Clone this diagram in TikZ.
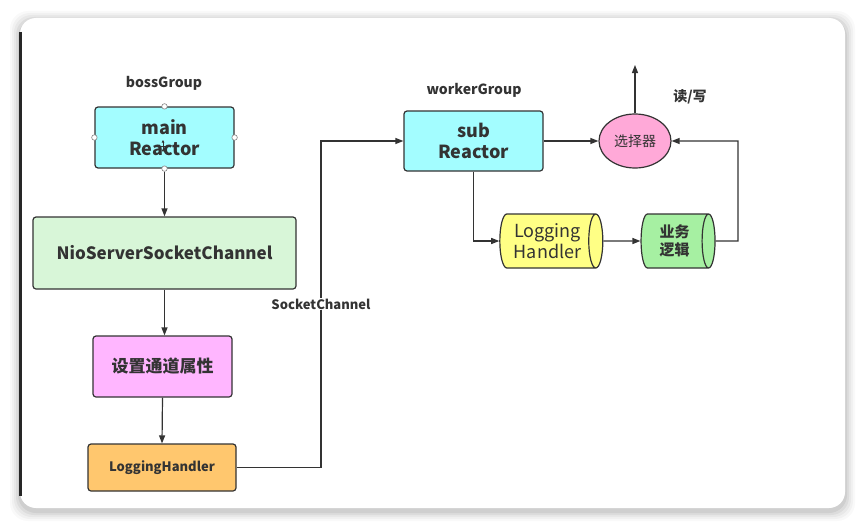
\documentclass[tikz,border=0pt]{standalone}
\usepackage{fontspec}
\setmainfont{Noto Sans CJK SC}
\usetikzlibrary{shapes.geometric,arrows.meta}
\definecolor{ink}{HTML}{333333}
\definecolor{cyanbox}{HTML}{A3FDFF}
\definecolor{greenbox}{HTML}{D8F6D8}
\definecolor{pinkbox}{HTML}{FFB6FF}
\definecolor{orangebox}{HTML}{FFC76E}
\definecolor{ellfill}{HTML}{FFA9D8}
\definecolor{yellowcyl}{HTML}{FFFF85}
\definecolor{greencyl}{HTML}{A6F0A2}
\tikzset{
  box/.style={draw=ink, line width=1.2pt, rounded corners=3pt, text=ink, font=\bfseries, align=center, inner sep=0pt},
  lbl/.style={text=ink, font=\bfseries, inner sep=1pt},
  cyl/.style={cylinder, draw=ink, line width=1.2pt, text=ink, align=center, aspect=0.4, inner sep=0pt},
  conn/.style={draw=ink, line width=1.2pt, -{Triangle[length=8pt,width=6pt]}},
  handle/.style={circle, draw=ink!60, fill=white, line width=0.6pt, minimum size=5.5pt, inner sep=0pt},
}
\begin{document}
\begin{tikzpicture}[x=1pt,y=-1pt]
\useasboundingbox (0,0) rectangle (864,527);
% shadow & panel
\foreach \i/\o in {10/0.025,8/0.03,6/0.04,4/0.05,2/0.06}{
  \fill[black,opacity=\o,rounded corners=18pt] (20-\i,18-\i+3) rectangle (845+\i,508+\i+3);
}
\fill[white,rounded corners=16pt] (20,18) rectangle (845,508);
\draw[black!85,line width=2.2pt] (20.5,32) -- (20.5,496);

% left column
\node[lbl, font=\bfseries\fontsize{14}{16}\selectfont] (boss) at (164,83) {bossGroup};
\node[box, fill=cyanbox, minimum width=139pt, minimum height=61pt, font=\bfseries\fontsize{18}{21}\selectfont] (main) at (164.5,137.5) {main\\Reactor};
\node[box, fill=greenbox, minimum width=263pt, minimum height=72pt, font=\bfseries\fontsize{17}{20}\selectfont] (nio) at (164.5,253) {NioServerSocketChannel};
\node[box, fill=pinkbox, minimum width=139pt, minimum height=61pt, font=\bfseries\fontsize{17}{20}\selectfont] (attr) at (162.5,366.5) {设置通道属性};
\node[box, fill=orangebox, minimum width=148pt, minimum height=47pt, font=\bfseries\fontsize{13}{15}\selectfont] (lh) at (162,467.5) {LoggingHandler};

% handles on main Reactor
\node[handle] (h1) at (main.north) {};
\node[handle] (h2) at (main.south) {};
\node[handle] (h3) at (main.west) {};
\node[handle] (h4) at (main.east) {};
% move cursor
\coordinate (cur) at (163,146);
\begin{scope}[shift={(cur)}, ink, line width=0.7pt]
  \draw[-{Triangle[length=2.5pt,width=2.5pt]}] (0,0) -- (0,-6);
  \draw[-{Triangle[length=2.5pt,width=2.5pt]}] (0,0) -- (0,6);
  \draw[-{Triangle[length=2.5pt,width=2.5pt]}] (0,0) -- (-6,0);
  \draw[-{Triangle[length=2.5pt,width=2.5pt]}] (0,0) -- (6,0);
\end{scope}

\draw[conn] (h2) -- (nio.north -| h2);
\draw[conn] (nio.south -| attr) ++(2,0) -- ([xshift=2pt]attr.north);
\draw[conn] (attr.south) -- (lh.north);

% right part
\node[lbl, font=\bfseries\fontsize{14}{16}\selectfont] (worker) at (474,90) {workerGroup};
\node[box, fill=cyanbox, minimum width=139pt, minimum height=60pt, font=\bfseries\fontsize{18}{21}\selectfont] (sub) at (473.5,141) {sub\\Reactor};
\node[ellipse, draw=ink, line width=1.2pt, fill=ellfill, minimum width=72pt, minimum height=54pt, inner sep=0pt, text=ink, font=\fontsize{14}{16}\selectfont] (sel) at (635,141) {选择器};
\coordinate (top) at (635,65);
\node[lbl, font=\bfseries\fontsize{14}{16}\selectfont] (rw) at (690,97) {读/写};
\node[cyl, fill=yellowcyl, minimum height=103pt, minimum width=54pt, font=\fontsize{18}{21}\selectfont] (lhc) at (547.5,241) {Logging\\Handler};
\node[cyl, fill=greencyl, minimum height=74pt, minimum width=54pt, font=\bfseries\fontsize{15}{18}\selectfont] (biz) at (674.5,241) {业务\\逻辑};

\draw[conn] (sub.east) -- (sel.west);
\draw[conn] (sel.north) -- (top);
\draw[conn] (sub.south) |- (lhc.west);
\draw[conn] (lhc.east) -- (biz.west);
\draw[conn] (biz.east) -- (738,241) |- (sel.east);

% SocketChannel connector
\draw[conn] (lh.east) -- (321,467.5) -- (321,141) -- (sub.west);
\node[lbl, fill=white, font=\bfseries\fontsize{13}{15}\selectfont] (sc) at (321,304) {SocketChannel};
\end{tikzpicture}
\end{document}
